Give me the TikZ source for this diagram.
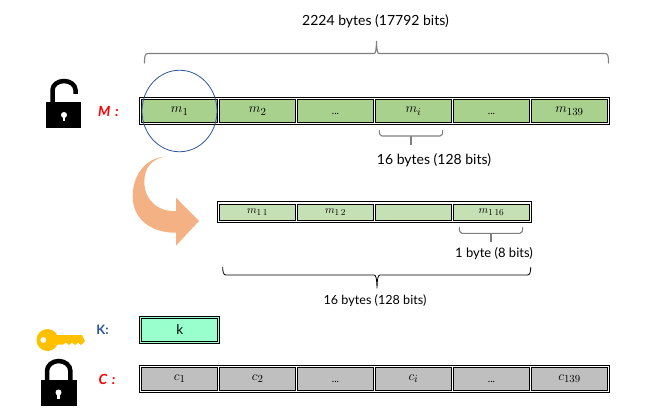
\RequirePackage{fix-cm}
\documentclass[tikz,border=0pt]{standalone}
\usepackage{fontspec}
\usetikzlibrary{shapes.geometric}
\setmainfont{Lato}
\DeclareMathSizes{13.5}{13.5}{10.8}{8}
\DeclareMathSizes{11}{11}{9}{7}
\definecolor{mgreen}{HTML}{A9D18E}
\definecolor{lgreen}{HTML}{C5E0B4}
\definecolor{kgreen}{HTML}{99FFCC}
\definecolor{cgray}{HTML}{BFBFBF}
\definecolor{bracegray}{HTML}{7F7F7F}
\definecolor{ringblue}{HTML}{2F5597}
\definecolor{arroworange}{HTML}{F4B183}
\definecolor{keygold}{HTML}{FFC000}
\newcommand{\lift}[1]{\raisebox{1.5pt}{#1}}
\tikzset{
  cellbox/.style={draw=black,line width=0.9pt,inner sep=0pt,minimum width=76pt,minimum height=23pt,anchor=center,font=\fontsize{13.5}{15}\selectfont},
  barbox/.style={draw=black,line width=0.9pt,fill=white,inner sep=0pt,anchor=center},
  smallcell/.style={cellbox,fill=lgreen,minimum height=16pt,font=\fontsize{11}{13}\selectfont},
  lbl/.style={font=\fontsize{14}{16}\selectfont,inner sep=0pt,anchor=center},
  bracket/.style={draw=bracegray,line width=1.1pt,line cap=round},
  dots/.style={font=\fontsize{10}{12}\selectfont,inner sep=0pt},
  redlbl/.style={font=\fontsize{14}{16}\selectfont\bfseries\itshape,text=red,inner sep=0pt,anchor=center},
}
\begin{document}
\begin{tikzpicture}[x=1pt,y=-1pt]
\useasboundingbox (0,0) rectangle (658,417);
% title
\node[lbl] (title) at (375.5,21) {2224 bytes (17792 bits)};
% top brace
\coordinate (b1l) at (144.5,63);
\coordinate (b1r) at (608.5,63);
\coordinate (b1t) at (376.5,41);
\draw[bracket] (b1l) .. controls (144.5,56) and (145,53.5) .. (148,53.5) -- (374,53.5) .. controls (375.7,53.5) and (376.2,50) .. (b1t) .. controls (376.8,50) and (377.3,53.5) .. (379,53.5) -- (605,53.5) .. controls (608,53.5) and (608.5,56) .. (b1r);
% M row
\node[barbox,minimum width=470pt,minimum height=27pt] (mbar) at (374.7,111) {};
\foreach \n/\xx/\t in {1/179.7/{\lift{$m_1$}},2/257.7/{\lift{$m_2$}},3/335.5/{},4/413.5/{\lift{$m_i$}},5/491.5/{},6/569.5/{\lift{$m_{139}$}}}{
  \node[cellbox,fill=mgreen] (m\n) at (\xx,111) {\t};
}
\node[dots] (mdotsa) at (335.5,114) {...};
\node[dots] (mdotsb) at (491.5,114) {...};
\node[draw=ringblue,line width=0.8pt,ellipse,minimum width=75pt,minimum height=81.5pt,inner sep=0pt] (ring) at (179.5,111) {};
% locks
\fill[black] (46,102.3) rectangle (81,128.3);
\draw[black,line width=4.5pt] (52.5,103) -- (52.5,90) arc[start angle=180,end angle=0,x radius=11.5,y radius=-9] -- (75.5,94);
\fill[white] (64,115) circle[radius=3];
\fill[white] (62.8,116) rectangle (65.2,121);
\node[redlbl] (mlab) at (108.5,111) {M\,\,:};
% small brace under m_i
\coordinate (b2l) at (379.3,130.5);
\coordinate (b2r) at (442.7,130.5);
\coordinate (b2t) at (411,144.7);
\draw[bracket] (b2l) .. controls (379.3,134) and (380,136) .. (382,136) -- (440,136) .. controls (442,136) and (442.7,134) .. (b2r);
\draw[bracket,line cap=butt] (411,136) -- (b2t);
\node[lbl] (l16a) at (434,160.5) {16 bytes (128 bits)};
% curved arrow
\fill[arroworange] (164.3,156.7) .. controls (148,158) and (132.7,172) .. (132.7,196.7)
  .. controls (132.7,218) and (150,233) .. (176,232.7) -- (176,245.7) -- (199,221) -- (176,197.7) -- (176,211)
  .. controls (158,212) and (144.3,200) .. (144.3,181.7) .. controls (144.3,168) and (152,159) .. (164.3,156.7) -- cycle;
% second row
\node[barbox,minimum width=314pt,minimum height=20.5pt] (sbar) at (374.5,212) {};
\foreach \n/\xx/\t in {1/257.5/{$m_{1\,1}$},2/335.5/{$m_{1\,2}$},3/413.5/{},4/491.5/{$m_{1\,16}$}}{
  \node[smallcell] (s\n) at (\xx,212) {\t};
}
\coordinate (b3l) at (459.3,227.5);
\coordinate (b3r) at (522.7,227.5);
\coordinate (b3t) at (491,241.7);
\draw[bracket] (b3l) .. controls (459.3,231) and (460,233.3) .. (462,233.3) -- (520,233.3) .. controls (522,233.3) and (522.7,231) .. (b3r);
\draw[bracket,line cap=butt] (491,233.3) -- (b3t);
\node[lbl,font=\fontsize{13}{15}\selectfont] (l1b) at (494,254) {1 byte (8 bits)};
\coordinate (b4l) at (222.7,267);
\coordinate (b4r) at (530.7,267);
\coordinate (b4t) at (377,288.3);
\draw[draw=black,line width=0.8pt] (b4l) .. controls (222.7,272) and (223.5,275) .. (226,275) -- (374,275) .. controls (376,275) and (376.7,278) .. (b4t) .. controls (377.3,278) and (378,275) .. (380,275) -- (527.5,275) .. controls (530,275) and (530.7,272) .. (b4r);
\node[lbl,font=\fontsize{12.6}{15}\selectfont] (l16b) at (375,301) {16 bytes (128 bits)};
% key
\fill[keygold,even odd rule] (47.5,340) circle[radius=11] (43.3,340) circle[radius=3];
\fill[keygold] (55,335) -- (82,335) -- (85,341) -- (81,345) -- (78,342.5) -- (75,345) -- (72,342.5) -- (69,345) -- (66,342.5) -- (63,344.5) -- (55,344.5) -- cycle;
\node[font=\fontsize{13}{15}\selectfont\bfseries,text=ringblue,inner sep=0pt] (klab) at (102.5,330) {K:};
\node[barbox,fill=kgreen,minimum width=80pt,minimum height=27pt] (kbar) at (179.5,329.7) {};
\node[cellbox,fill=kgreen] (k) at (179.7,329.7) {k};
% C row
\node[barbox,minimum width=470pt,minimum height=27pt] (cbar) at (374.7,378.7) {};
\foreach \n/\xx/\t in {1/179.7/{$c_1$},2/257.7/{$c_2$},3/335.5/{},4/413.5/{$c_i$},5/491.5/{},6/569.5/{$c_{139}$}}{
  \node[cellbox,fill=cgray] (c\n) at (\xx,378.7) {\t};
}
\node[dots] (cdotsa) at (335.5,381.5) {...};
\node[dots] (cdotsb) at (491.5,381.5) {...};
\fill[black] (40.7,380) rectangle (76.7,406);
\draw[black,line width=4.5pt] (47,381) -- (47,371) arc[start angle=180,end angle=0,x radius=11.7,y radius=-10] -- (70.4,381);
\fill[white] (58.5,392.5) circle[radius=3];
\fill[white] (57.3,393) rectangle (59.7,399);
\node[redlbl] (clab) at (107,379) {C\,\,:};
\end{tikzpicture}
\end{document}
